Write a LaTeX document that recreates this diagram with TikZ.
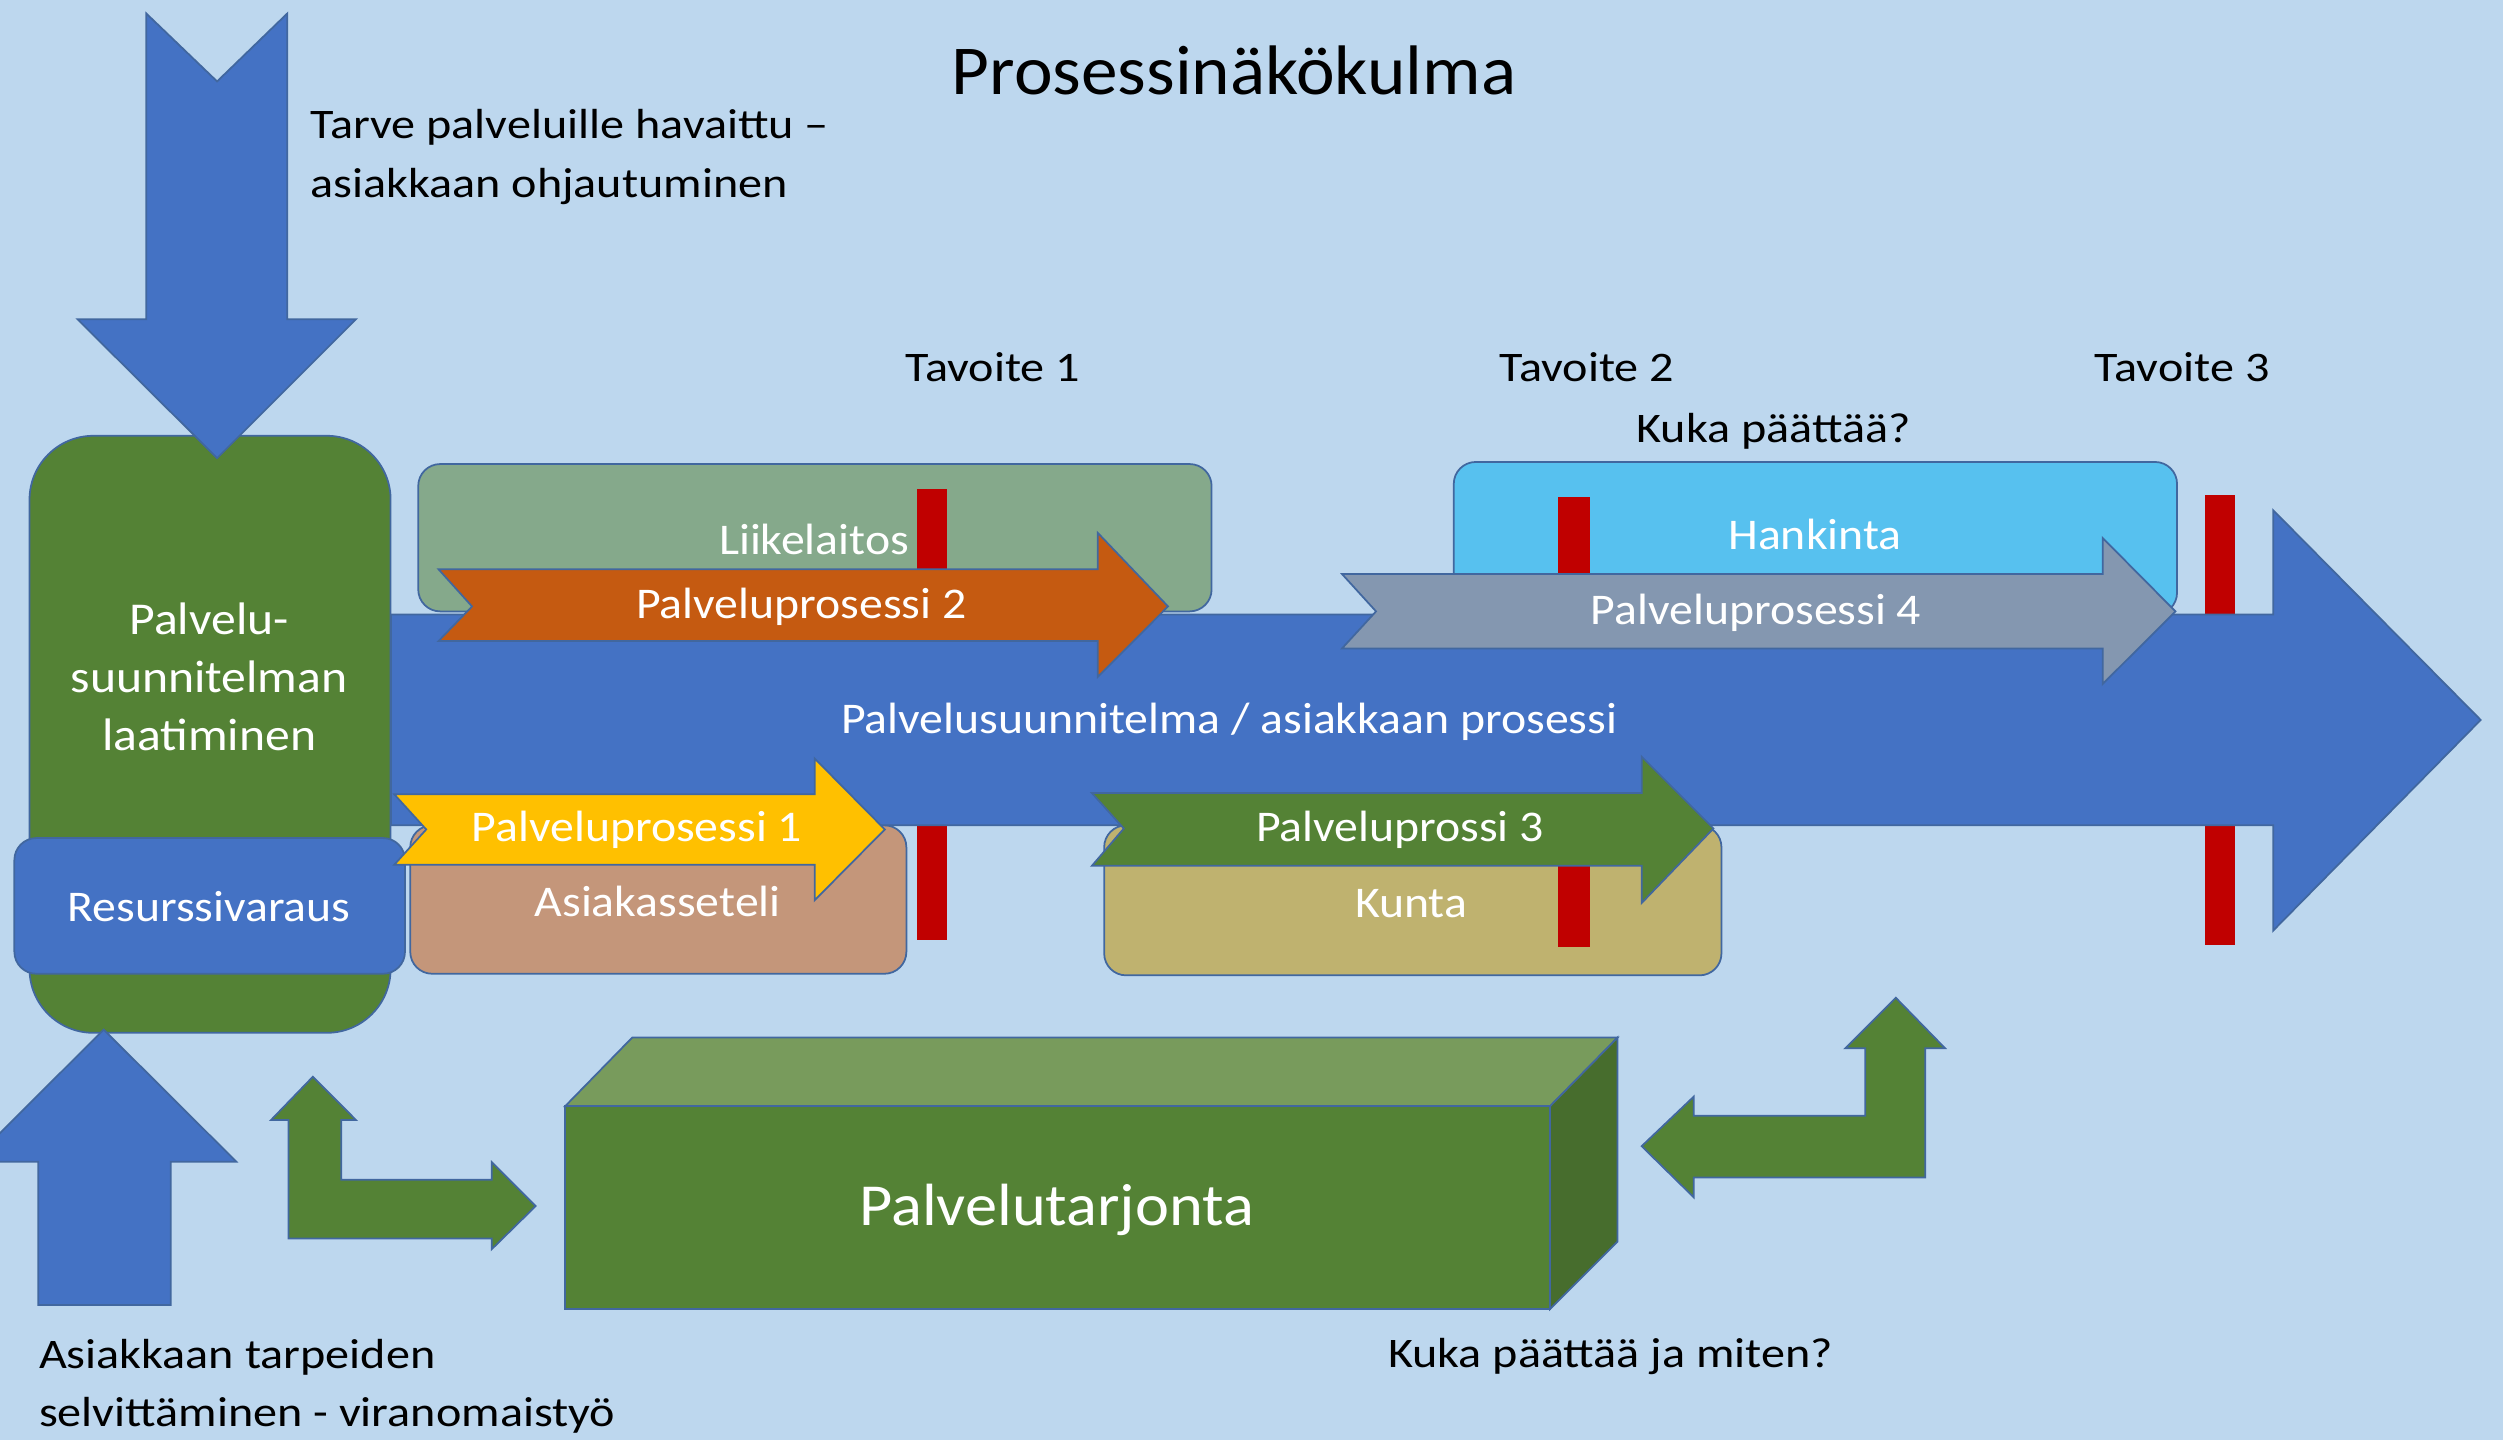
\documentclass[tikz,border=0pt]{standalone}
\usepackage{fontspec}
\setmainfont{Carlito}
\newfontfamily\blkfont[FakeStretch=1.145]{Carlito}
\newfontfamily\whtfont[FakeStretch=1.09]{Carlito}
\newfontfamily\ttlfont[FakeStretch=1.045]{Carlito}
\newfontfamily\bigfont[FakeStretch=1.08]{Carlito}
\definecolor{bg}{HTML}{BDD7EE}
\definecolor{mblue}{HTML}{4472C4}
\definecolor{outl}{HTML}{41679F}
\definecolor{mgreen}{HTML}{548235}
\definecolor{liike}{HTML}{85A98B}
\definecolor{hank}{HTML}{57C1EF}
\definecolor{asiak}{HTML}{C4967A}
\definecolor{kunta}{HTML}{BFB26F}
\definecolor{orng}{HTML}{C55A11}
\definecolor{yel}{HTML}{FFC000}
\definecolor{grayfour}{HTML}{8497B0}
\definecolor{redbar}{HTML}{C00000}
\definecolor{cubetop}{HTML}{789B5C}
\definecolor{cubeside}{HTML}{476D2D}
\begin{document}
\begin{tikzpicture}[x=0.016cm,y=-0.016cm,
  shp/.style={draw=outl, line width=0.5pt, line join=miter},
  bigbox/.style={shp, rounded corners=0.64cm},
  smallbox/.style={shp, rounded corners=0.22cm},
  bar/.style={fill=redbar},
  blk/.style={font=\blkfont\fontsize{12}{16.7}\selectfont, text=black, inner sep=0pt},
  wht/.style={font=\whtfont\fontsize{12.5}{16.6}\selectfont, text=white, inner sep=0pt},
  ttl/.style={font=\ttlfont\fontsize{20}{24}\selectfont, text=black, inner sep=0pt},
  big/.style={font=\bigfont\fontsize{17}{20}\selectfont, text=white, inner sep=0pt}]
\useasboundingbox (0,0) rectangle (1568,902);
\fill[bg] (0,0) rectangle (1568,902);

% left planning box and resource box
\draw[bigbox, fill=mgreen] (18.5,273) rectangle (244.7,647);
\draw[smallbox, fill=mblue] (9,525) rectangle (253.7,610);

% top down arrow (notched)
\draw[shp, fill=mblue] (91.6,8.4) -- (136,51) -- (180,8.4) -- (180,200) -- (223,200)
  -- (136,287) -- (48.6,200) -- (91.6,200) -- cycle;
% bottom up arrow
\draw[shp, fill=mblue] (65,645) -- (148,727.7) -- (107,727.7) -- (107,817.5) -- (24,817.5)
  -- (24,727.7) -- (-18,727.7) -- cycle;

% organisation boxes
\draw[smallbox, fill=liike] (262,290.7) rectangle (759,383);
\draw[smallbox, fill=hank] (910.7,289.4) rectangle (1363.8,385);
\draw[smallbox, fill=asiak] (257,517) rectangle (567.8,610);
\draw[smallbox, fill=kunta] (691.7,517) rectangle (1078.4,611);

% red goal bars
\fill[bar] (574.3,306.5) rectangle (593,588.6);
\fill[bar] (975.8,311.5) rectangle (995.8,593.4);
\fill[bar] (1381.3,310.3) rectangle (1400,592.2);

% main arrow
\draw[shp, fill=mblue] (245,385) -- (1424,385) -- (1424,319.6) -- (1554,451) -- (1424,583)
  -- (1424,517) -- (245,517) -- cycle;

% process arrows
\draw[shp, fill=orng] (274.7,356.6) -- (687.7,356.6) -- (687.7,333.8) -- (731.7,379.9)
  -- (687.7,424) -- (687.7,401.6) -- (274.7,401.6) -- (295.7,379.9) -- cycle;
\draw[shp, fill=yel] (247,497.6) -- (510.4,497.6) -- (510.4,475.2) -- (554.3,519.6)
  -- (510.4,563.9) -- (510.4,541.7) -- (247,541.7) -- (267,519.6) -- cycle;
\draw[shp, fill=mgreen] (684,496.8) -- (1028.4,496.8) -- (1028.4,474) -- (1073.4,519)
  -- (1028.4,565.7) -- (1028.4,542.4) -- (684,542.4) -- (704,519) -- cycle;
\draw[shp, fill=grayfour] (840.7,359.6) -- (1317.2,359.6) -- (1317.2,337) -- (1362.8,383)
  -- (1317.2,428.5) -- (1317.2,406.2) -- (840.7,406.2) -- (862,383) -- cycle;

% cube Palvelutarjonta
\draw[shp, fill=cubetop] (354,693) -- (396,650) -- (1013.3,650) -- (971,693) -- cycle;
\draw[shp, fill=cubeside] (971,693) -- (1013.3,650) -- (1013.3,777.8) -- (971,820) -- cycle;
\draw[shp, fill=mgreen] (354,693) rectangle (971,820);

% bent arrows
\draw[shp, fill=mgreen] (196,674.5) -- (223,701.6) -- (213.7,701.6) -- (213.7,739) -- (308,739)
  -- (308,728) -- (335.6,755.5) -- (308,782.6) -- (308,775.8) -- (180.8,775.8)
  -- (180.8,701.6) -- (169.8,701.6) -- cycle;
\draw[shp, fill=mgreen] (1187.6,625) -- (1218.5,656.7) -- (1206,656.7) -- (1206,737.7)
  -- (1061,737.7) -- (1061,750) -- (1028.4,718) -- (1061,687) -- (1061,699)
  -- (1168.4,699) -- (1168.4,656.7) -- (1156,656.7) -- cycle;

% texts
\node[ttl] (title) at (773,44) {Prosessinäkökulma};
\node[blk, align=left, anchor=west] (tarve) at (194,98.5) {Tarve palveluille havaittu –\\asiakkaan ohjautuminen};
\node[blk] (t1) at (622,230) {Tavoite 1};
\node[blk] (t2) at (994,230) {Tavoite 2};
\node[blk] (t3) at (1367,230) {Tavoite 3};
\node[blk] (kuka) at (1111,270) {Kuka päättää?};
\node[blk, align=left, anchor=west] (asiak) at (24,868.5) {Asiakkaan tarpeiden\\selvittäminen - viranomaistyö};
\node[blk] (kukamiten) at (1009,850) {Kuka päättää ja miten?};

\node[wht, align=center, font=\whtfont\fontsize{13}{16.6}\selectfont] (laat) at (131,424) {Palvelu-\\suunnitelman\\laatiminen};
\node[wht] (res) at (131,568) {Resurssivaraus};
\node[wht] (liikel) at (510,338) {Liikelaitos};
\node[wht] (hank) at (1137,335) {Hankinta};
\node[wht] (asset) at (412,565) {Asiakasseteli};
\node[wht] (kunta) at (884,566) {Kunta};
\node[wht] (pp2) at (502,380) {Palveluprosessi 2};
\node[wht] (pp1) at (399,520) {Palveluprosessi 1};
\node[wht] (pp3) at (877,520) {Palveluprossi 3};
\node[wht] (pp4) at (1100,384) {Palveluprosessi 4};
\node[wht] (main) at (770,452) {Palvelusuunnitelma / asiakkaan prosessi};
\node[big] (tarj) at (662,758) {Palvelutarjonta};
\end{tikzpicture}
\end{document}
